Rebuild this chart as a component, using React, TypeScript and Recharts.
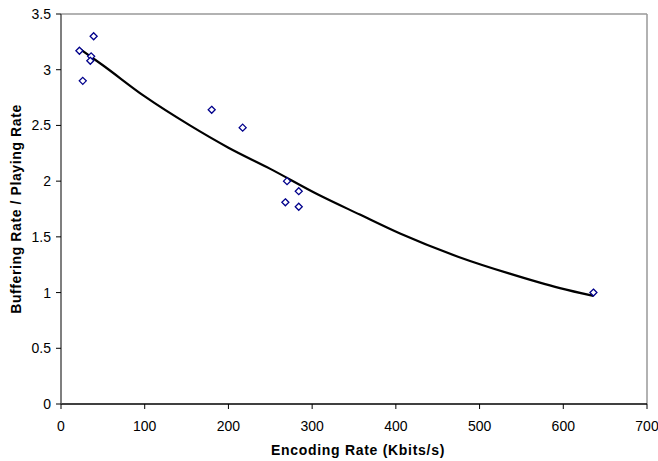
import React from 'react';
import { ScatterChart, Scatter, XAxis, YAxis, ReferenceLine } from 'recharts';

const encodingRates = [22, 26, 39, 36, 35, 180, 217, 270, 268, 284, 284, 636];
const bufferRatios = [3.17, 2.9, 3.3, 3.12, 3.08, 2.64, 2.48, 2.0, 1.81, 1.91, 1.77, 1.0];
const trendX = [22, 50, 100, 154, 200, 250, 307, 357, 405, 475, 536, 596, 636];
const trendY = [3.19, 3.04, 2.76, 2.5, 2.3, 2.11, 1.88, 1.7, 1.53, 1.32, 1.17, 1.04, 0.97];
const xTicks = [0, 100, 200, 300, 400, 500, 600, 700];
const yTicks = [0, 0.5, 1, 1.5, 2, 2.5, 3, 3.5];

const points = encodingRates.map((x, i) => ({ x, y: bufferRatios[i] }));
const trend = trendX.map((x, i) => ({ x, y: trendY[i] }));

const Diamond = (props: any) => {
  const { cx, cy } = props;
  const r = 3.5;
  return (
    <path
      d={`M${cx},${cy - r}L${cx + r},${cy}L${cx},${cy + r}L${cx - r},${cy}Z`}
      fill="#ffffff"
      stroke="#00008b"
      strokeWidth={1.3}
    />
  );
};

const NoDot = () => <g />;

const font = '"Liberation Sans", Arial, sans-serif';

export default function App() {
  return (
    <div style={{ position: 'absolute', left: 0, top: 0, width: 658, height: 461, background: '#fff' }}>
      <ScatterChart
        width={658}
        height={461}
        margin={{ top: 14, right: 11, left: 1, bottom: 0 }}
        style={{ fontFamily: font }}
      >
        <XAxis
          type="number"
          dataKey="x"
          domain={[0, 700]}
          ticks={xTicks}
          height={57}
          tickSize={5}
          tickMargin={12}
          axisLine={{ stroke: '#000', strokeWidth: 1.5 }}
          tickLine={{ stroke: '#000' }}
          tick={{ fill: '#000', fontSize: 14, fontFamily: font }}
          label={{
            value: 'Encoding Rate (Kbits/s)',
            position: 'insideBottom',
            offset: 6,
            dx: 4,
            style: { fontWeight: 'bold', fontSize: 14, letterSpacing: 0.7, fill: '#000', fontFamily: font },
          }}
        />
        <YAxis
          type="number"
          dataKey="y"
          domain={[0, 3.5]}
          ticks={yTicks}
          width={60}
          tickSize={5}
          tickMargin={5}
          axisLine={{ stroke: '#555', strokeWidth: 1.5 }}
          tickLine={{ stroke: '#000' }}
          tick={{ fill: '#000', fontSize: 14, fontFamily: font }}
          label={{
            value: 'Buffering Rate / Playing Rate',
            angle: -90,
            position: 'insideLeft',
            offset: 15,
            style: { fontWeight: 'bold', fontSize: 14, letterSpacing: 0.6, fill: '#000', fontFamily: font, textAnchor: 'middle' },
          }}
        />
        <ReferenceLine y={3.5} stroke="#999" strokeWidth={1.5} />
        <ReferenceLine x={700} stroke="#999" strokeWidth={1.5} />
        <Scatter
          data={trend}
          line={{ stroke: '#000', strokeWidth: 2.2 }}
          lineJointType="monotoneX"
          shape={NoDot}
          isAnimationActive={false}
        />
        <Scatter data={points} shape={Diamond} isAnimationActive={false} />
      </ScatterChart>
    </div>
  );
}
